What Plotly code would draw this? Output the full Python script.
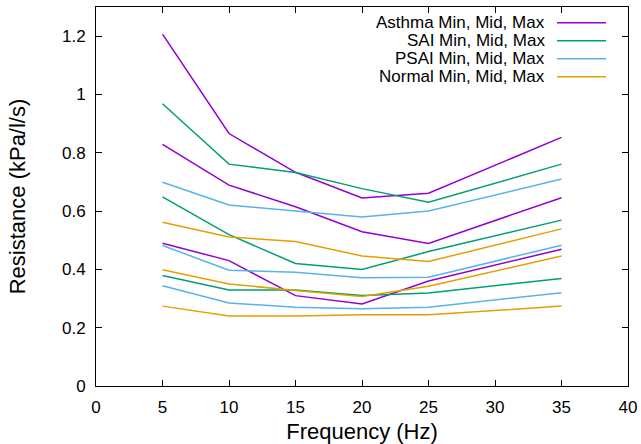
import plotly.graph_objects as go

freq = [5, 10, 15, 20, 25, 35]

asthma_min = [0.490, 0.430, 0.310, 0.281, 0.360, 0.469]
asthma_mid = [0.829, 0.689, 0.615, 0.529, 0.489, 0.646]
asthma_max = [1.207, 0.866, 0.733, 0.645, 0.661, 0.853]

sai_min = [0.379, 0.329, 0.329, 0.310, 0.319, 0.369]
sai_mid = [0.649, 0.519, 0.420, 0.400, 0.461, 0.569]
sai_max = [0.968, 0.761, 0.732, 0.677, 0.630, 0.761]

psai_min = [0.344, 0.285, 0.270, 0.265, 0.270, 0.320]
psai_mid = [0.482, 0.397, 0.390, 0.371, 0.373, 0.483]
psai_max = [0.699, 0.621, 0.600, 0.580, 0.600, 0.710]

normal_min = [0.274, 0.240, 0.240, 0.244, 0.244, 0.274]
normal_mid = [0.399, 0.350, 0.328, 0.307, 0.342, 0.446]
normal_max = [0.562, 0.511, 0.496, 0.446, 0.427, 0.539]

group_names = ["Asthma Min, Mid, Max", "SAI Min, Mid, Max",
               "PSAI Min, Mid, Max", "Normal Min, Mid, Max"]
group_colors = ["#9400d3", "#009e73", "#56b4e9", "#e69f00"]
group_series = [
    [asthma_min, asthma_mid, asthma_max],
    [sai_min, sai_mid, sai_max],
    [psai_min, psai_mid, psai_max],
    [normal_min, normal_mid, normal_max],
]

FONT = "Liberation Sans, Arial, Helvetica, sans-serif"

fig = go.Figure()
for name, color, series in zip(group_names, group_colors, group_series):
    for s in series:
        fig.add_trace(go.Scatter(
            x=freq, y=s, mode="lines", name=name, legendgroup=name,
            showlegend=False, line=dict(color=color, width=1.5),
        ))

# gnuplot-style legend: right-aligned text with sample line to the right
W, H = 641, 444
L, R, T, B = 96, 13, 7, 58
pw, ph = W - L - R, H - T - B
row_px = [22.7, 40.7, 58.7, 76.7]
text_right_px = 546
line_x0_px, line_x1_px = 557, 606
for name, color, ypx in zip(group_names, group_colors, row_px):
    yp = (H - B - ypx) / ph
    fig.add_annotation(
        x=(text_right_px - L) / pw, y=yp, xref="paper", yref="paper",
        text=name, showarrow=False, xanchor="right", yanchor="middle",
        borderpad=0, height=17, valign="middle",
        font=dict(family=FONT, size=17, color="#000000"),
    )
    fig.add_shape(
        type="line", xref="paper", yref="paper",
        x0=(line_x0_px - L) / pw, x1=(line_x1_px - L) / pw, y0=yp, y1=yp,
        line=dict(color=color, width=1.5),
    )

axis_common = dict(
    showgrid=False, zeroline=False, showline=True, linecolor="#000000",
    linewidth=1, mirror="allticks", ticks="inside", ticklen=6,
    tickcolor="#000000", tickwidth=1, automargin=False,
    tickfont=dict(family=FONT, size=17, color="#000000"),
)

fig.update_layout(
    width=W, height=H,
    margin=dict(l=L, r=R, t=T, b=B),
    paper_bgcolor="white", plot_bgcolor="white",
    showlegend=False,
    xaxis=dict(
        range=[0, 40], tick0=0, dtick=5,
        title=dict(text="Frequency (Hz)", standoff=8,
                   font=dict(family=FONT, size=22, color="#000000")),
        ticklabelstandoff=6,
        **axis_common,
    ),
    yaxis=dict(
        range=[0, 1.3], tick0=0, dtick=0.2,
        title=dict(text="Resistance (kPa/l/s)", standoff=30,
                   font=dict(family=FONT, size=22, color="#000000")),
        ticklabelstandoff=6,
        **axis_common,
    ),
)

fig.write_html("out.html")
